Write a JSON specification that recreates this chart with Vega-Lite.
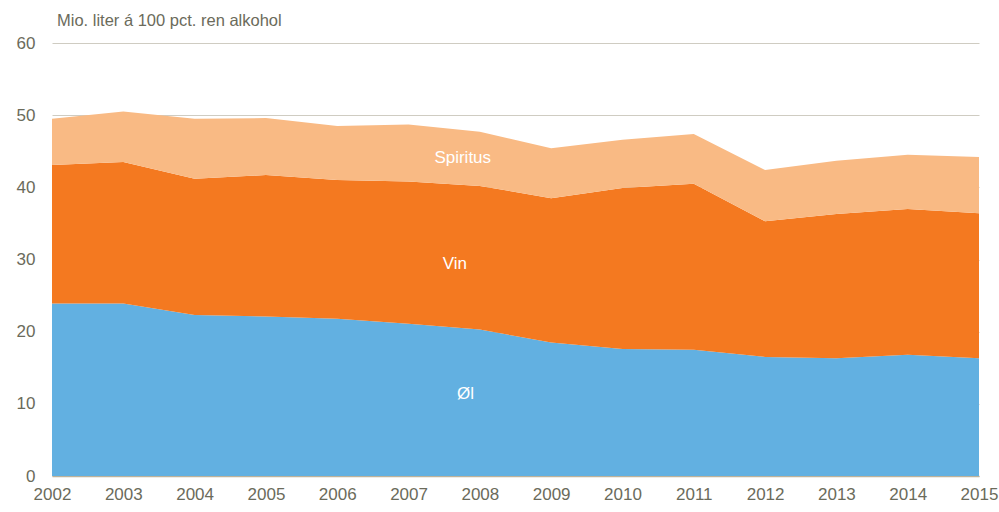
{
  "$schema": "https://vega.github.io/schema/vega-lite/v6.json",
  "width": 927,
  "height": 433,
  "autosize": "none",
  "padding": {"left": 52, "top": 43, "right": 20, "bottom": 36},
  "background": "white",
  "config": {
    "view": {"stroke": null},
    "font": "Liberation Sans",
    "title": {"font": "Liberation Sans", "fontSize": 16.5, "fontWeight": "normal", "color": "#6B6B5B", "anchor": "start", "frame": "group", "dx": 5, "offset": 5}
  },
  "title": "Mio. liter á 100 pct. ren alkohol",
  "datasets": {
    "series": [
      {"year": 2002, "type": "Øl", "o": 1, "value": 23.9},
      {"year": 2003, "type": "Øl", "o": 1, "value": 23.9},
      {"year": 2004, "type": "Øl", "o": 1, "value": 22.3},
      {"year": 2005, "type": "Øl", "o": 1, "value": 22.1},
      {"year": 2006, "type": "Øl", "o": 1, "value": 21.8},
      {"year": 2007, "type": "Øl", "o": 1, "value": 21.1},
      {"year": 2008, "type": "Øl", "o": 1, "value": 20.3},
      {"year": 2009, "type": "Øl", "o": 1, "value": 18.5},
      {"year": 2010, "type": "Øl", "o": 1, "value": 17.6},
      {"year": 2011, "type": "Øl", "o": 1, "value": 17.5},
      {"year": 2012, "type": "Øl", "o": 1, "value": 16.5},
      {"year": 2013, "type": "Øl", "o": 1, "value": 16.3},
      {"year": 2014, "type": "Øl", "o": 1, "value": 16.8},
      {"year": 2015, "type": "Øl", "o": 1, "value": 16.3},
      {"year": 2002, "type": "Vin", "o": 2, "value": 19.2},
      {"year": 2003, "type": "Vin", "o": 2, "value": 19.6},
      {"year": 2004, "type": "Vin", "o": 2, "value": 18.9},
      {"year": 2005, "type": "Vin", "o": 2, "value": 19.6},
      {"year": 2006, "type": "Vin", "o": 2, "value": 19.2},
      {"year": 2007, "type": "Vin", "o": 2, "value": 19.7},
      {"year": 2008, "type": "Vin", "o": 2, "value": 19.9},
      {"year": 2009, "type": "Vin", "o": 2, "value": 20.0},
      {"year": 2010, "type": "Vin", "o": 2, "value": 22.3},
      {"year": 2011, "type": "Vin", "o": 2, "value": 23.0},
      {"year": 2012, "type": "Vin", "o": 2, "value": 18.8},
      {"year": 2013, "type": "Vin", "o": 2, "value": 20.0},
      {"year": 2014, "type": "Vin", "o": 2, "value": 20.2},
      {"year": 2015, "type": "Vin", "o": 2, "value": 20.1},
      {"year": 2002, "type": "Spiritus", "o": 3, "value": 6.4},
      {"year": 2003, "type": "Spiritus", "o": 3, "value": 7.0},
      {"year": 2004, "type": "Spiritus", "o": 3, "value": 8.3},
      {"year": 2005, "type": "Spiritus", "o": 3, "value": 7.9},
      {"year": 2006, "type": "Spiritus", "o": 3, "value": 7.5},
      {"year": 2007, "type": "Spiritus", "o": 3, "value": 7.9},
      {"year": 2008, "type": "Spiritus", "o": 3, "value": 7.5},
      {"year": 2009, "type": "Spiritus", "o": 3, "value": 6.9},
      {"year": 2010, "type": "Spiritus", "o": 3, "value": 6.7},
      {"year": 2011, "type": "Spiritus", "o": 3, "value": 6.9},
      {"year": 2012, "type": "Spiritus", "o": 3, "value": 7.1},
      {"year": 2013, "type": "Spiritus", "o": 3, "value": 7.4},
      {"year": 2014, "type": "Spiritus", "o": 3, "value": 7.5},
      {"year": 2015, "type": "Spiritus", "o": 3, "value": 7.8}
    ],
    "labels": [
      {"year": 2007.76, "y": 44.1, "label": "Spiritus"},
      {"year": 2007.65, "y": 29.4, "label": "Vin"},
      {"year": 2007.8, "y": 11.4, "label": "Øl"}
    ]
  },
  "layer": [
    {
      "data": {"name": "series"},
      "mark": {"type": "area", "interpolate": "linear", "strokeWidth": 0},
      "encoding": {
        "x": {
          "field": "year", "type": "quantitative",
          "scale": {"domain": [2002, 2015], "nice": false, "zero": false},
          "axis": {
            "title": null, "values": [2002,2003,2004,2005,2006,2007,2008,2009,2010,2011,2012,2013,2014,2015],
            "format": "d", "grid": false, "ticks": false, "domain": true, "domainColor": "#BDB29A", "domainWidth": 1.5,
            "labelFont": "Liberation Sans", "labelFontSize": 17, "labelColor": "#6B6B5B", "labelPadding": 10,
            "labelFlush": false
          }
        },
        "y": {
          "field": "value", "type": "quantitative", "stack": "zero",
          "scale": {"domain": [0, 60], "nice": false},
          "axis": {
            "title": null, "values": [0,10,20,30,40,50,60], "grid": true, "gridColor": "#CFCCC2", "gridWidth": 1,
            "ticks": false, "domain": false,
            "labelFont": "Liberation Sans", "labelFontSize": 17, "labelColor": "#6B6B5B", "labelPadding": 17
          }
        },
        "color": {
          "field": "type", "type": "nominal",
          "scale": {"domain": ["Øl", "Vin", "Spiritus"], "range": ["#62B0E1", "#F47920", "#F9BA84"]},
          "legend": null
        },
        "order": {"field": "o", "type": "quantitative"}
      }
    },
    {
      "data": {"name": "labels"},
      "mark": {"type": "text", "font": "Liberation Sans", "fontSize": 17, "color": "white", "align": "center", "baseline": "middle"},
      "encoding": {
        "x": {"field": "year", "type": "quantitative"},
        "y": {"field": "y", "type": "quantitative"},
        "text": {"field": "label"}
      }
    }
  ]
}
